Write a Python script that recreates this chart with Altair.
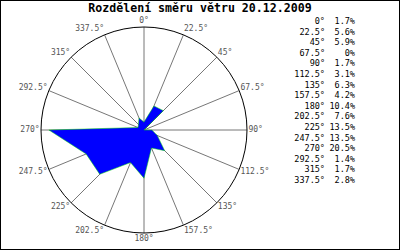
import altair as alt
import pandas as pd

TITLE = "Rozdělení směru větru 20.12.2009"
ANGLES = [0, 22.5, 45, 67.5, 90, 112.5, 135, 157.5, 180, 202.5, 225, 247.5, 270, 292.5, 315, 337.5]
PCT = [1.7, 5.6, 5.9, 0, 1.7, 3.1, 6.3, 4.2, 10.4, 7.6, 13.5, 13.5, 20.5, 1.4, 1.7, 2.8]
RMAX = 22.2  # radial scale maximum (outer circle)

W, H = 400, 250
CX, CY, RPX = 144, 130, 103
k = RPX / RMAX
xs = alt.Scale(domain=[-CX / k, (W - CX) / k], nice=False, zero=False)
ys = alt.Scale(domain=[-(H - CY) / k, CY / k], nice=False, zero=False)

FONT = "DejaVu Sans Mono"

df = pd.DataFrame({"angle": ANGLES, "pct": PCT, "i": list(range(len(ANGLES)))})
poly_df = pd.concat([df, df.iloc[[0]].assign(i=len(ANGLES))], ignore_index=True)

rad = "datum.angle*PI/180"

spokes = alt.Chart(df).transform_calculate(
    z="0",
    ex=f"{RMAX}*sin({rad})",
    ey=f"{RMAX}*cos({rad})",
).mark_rule(color="#777777", strokeWidth=1).encode(
    x=alt.X("z:Q", scale=xs, axis=None),
    y=alt.Y("z:Q", scale=ys, axis=None),
    x2="ex:Q",
    y2="ey:Q",
)

circle = alt.Chart(pd.DataFrame({"cx": [0], "cy": [0]})).mark_point(
    shape="circle", size=(2 * RPX) ** 2, filled=False, stroke="black",
    strokeWidth=1, opacity=1,
).encode(
    x=alt.X("cx:Q", scale=xs, axis=None),
    y=alt.Y("cy:Q", scale=ys, axis=None),
)

poly = alt.Chart(poly_df).transform_calculate(
    px=f"datum.pct*sin({rad})",
    py=f"datum.pct*cos({rad})",
).mark_line(fill="#0000ff", stroke="#00dd00", strokeWidth=0.5, interpolate="linear").encode(
    x=alt.X("px:Q", scale=xs, axis=None),
    y=alt.Y("py:Q", scale=ys, axis=None),
    order="i:Q",
)

def labels(filt, align):
    return alt.Chart(df).transform_filter(filt).transform_calculate(
        lx=f"({RMAX}+0.3)*sin({rad})",
        ly=f"({RMAX}+1.3)*cos({rad})",
        lab="datum.angle + '°'",
    ).mark_text(align=align, baseline="middle", font=FONT, fontSize=8, color="#555555").encode(
        x=alt.X("lx:Q", scale=xs, axis=None),
        y=alt.Y("ly:Q", scale=ys, axis=None),
        text="lab:N",
    )

lab_r = labels("datum.angle > 0 && datum.angle < 180", "left")
lab_l = labels("datum.angle > 180", "right")
lab_c = labels("datum.angle == 0 || datum.angle == 180", "center")

main = alt.layer(spokes, circle, poly, lab_r, lab_l, lab_c)

ty = alt.Y("i:O", scale=alt.Scale(type="point", range=[21, 180], padding=0), axis=None)
tab_a = alt.Chart(df).transform_calculate(lab="datum.angle + '°'").mark_text(
    align="right", baseline="middle", font=FONT, fontSize=8.5, color="black"
).encode(x=alt.value(325), y=ty, text="lab:N")
tab_p = alt.Chart(df).transform_calculate(lab="datum.pct + '%'").mark_text(
    align="right", baseline="middle", font=FONT, fontSize=8.5, color="black"
).encode(x=alt.value(355), y=ty, text="lab:N")

title = alt.Chart(pd.DataFrame({"t": [TITLE]})).mark_text(
    font=FONT, fontSize=11.6, fontWeight="bold", color="black", baseline="middle"
).encode(x=alt.value(W / 2), y=alt.value(9), text="t:N")

tables = alt.layer(tab_a, tab_p, title)

chart = alt.layer(main, tables).resolve_scale(x="independent", y="independent").properties(
    width=W, height=H, padding=0, autosize="none", background="white"
).configure_view(stroke="black", strokeWidth=2)

chart.save("out.html", embed_options={"renderer": "svg", "actions": False})
